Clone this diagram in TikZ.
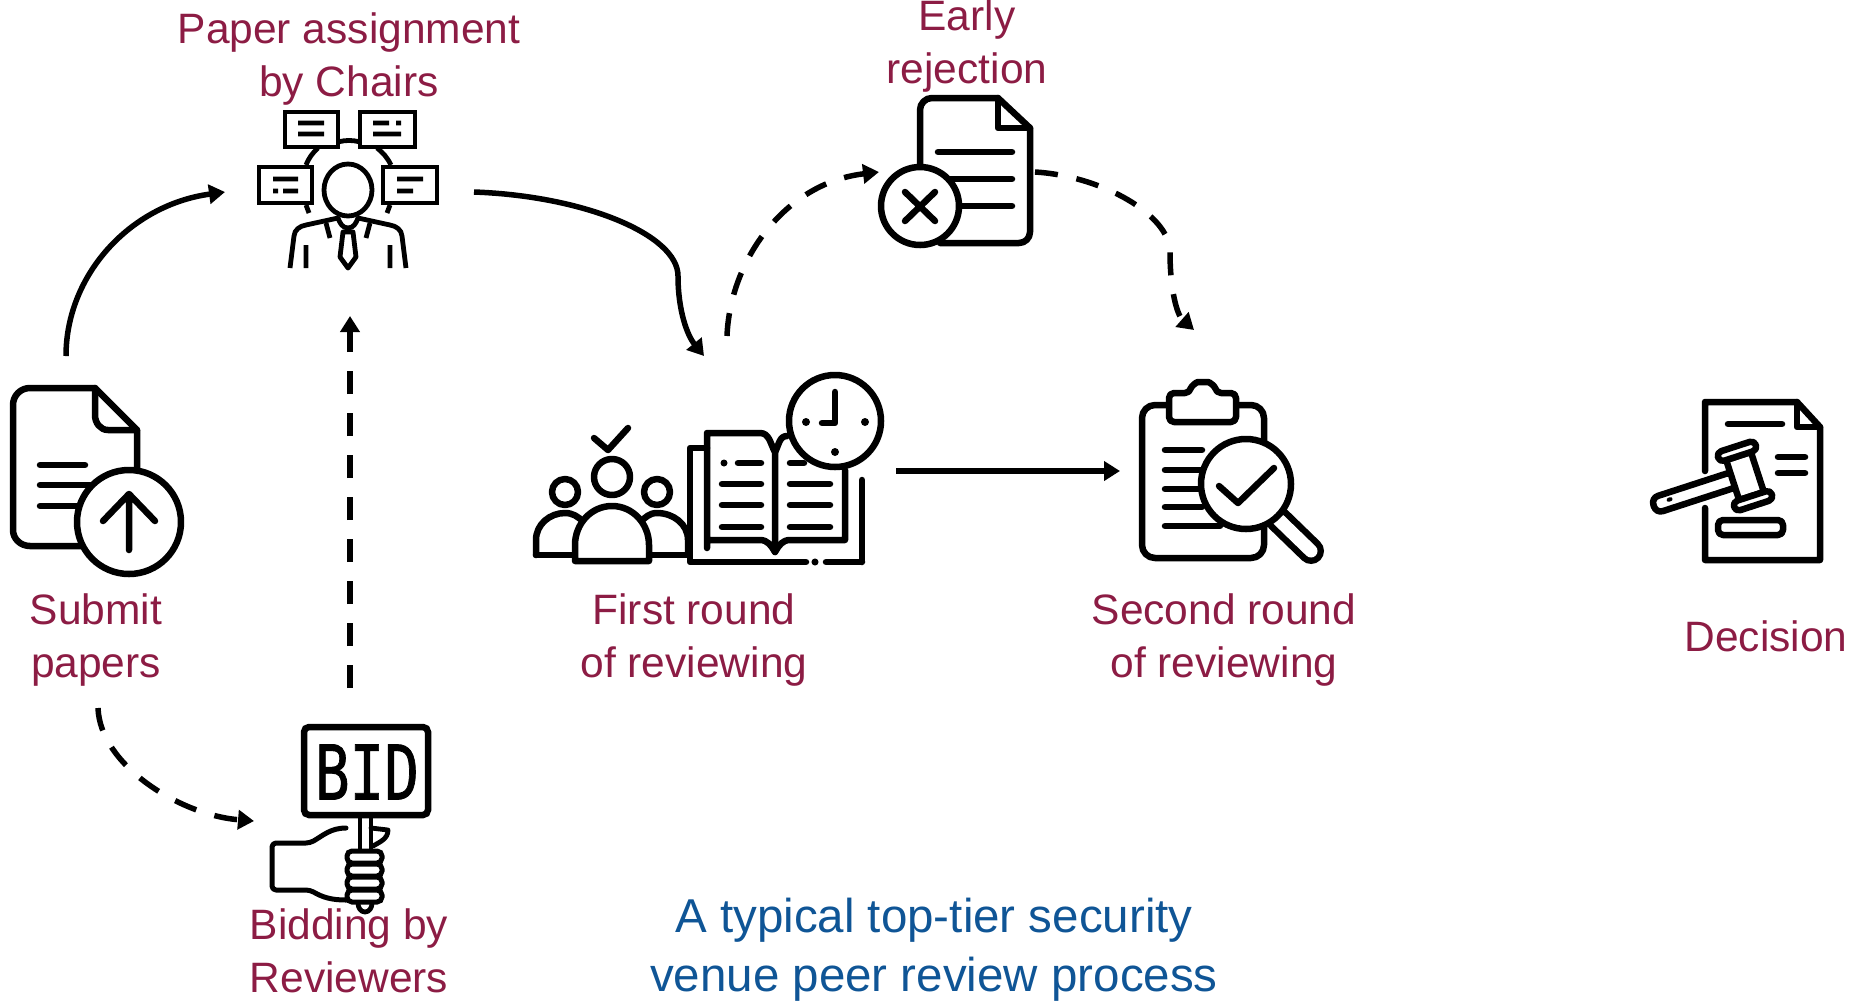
\documentclass[tikz,border=0pt]{standalone}
\usepackage{fontspec}
\usepackage{graphicx}
\setmainfont{Liberation Sans}
\newfontfamily\bidfont[FakeBold=1.2]{DejaVu Sans Mono}
\usetikzlibrary{arrows.meta}
\definecolor{wine}{HTML}{8C1C44}
\definecolor{navy}{HTML}{0F5596}
\tikzset{
  lab/.style={text=wine,inner sep=0pt,align=center,font=\fontsize{42.5}{52.5}\selectfont},
  ttl/.style={text=navy,inner sep=0pt,align=center,font=\fontsize{47.5}{59}\selectfont},
  flow/.style={line width=5.5pt,draw=black,-{Triangle[length=16pt,width=19pt]}},
  dflow/.style={flow,dash pattern=on 23pt off 19pt},
  ico/.style={line width=6.5pt,draw=black,line cap=round,line join=round},
  icothin/.style={line width=4.8pt,draw=black,line cap=round,line join=round},
  wfill/.style={fill=white}
}
\begin{document}
\begin{tikzpicture}[x=1pt,y=-1pt]
\useasboundingbox (0,0) rectangle (1865,1005);
% ---- labels
\node[lab,anchor=center] (lsubmit) at (96,640) {Submit\\papers};
\node[lab,anchor=center] (lpaper) at (349,59) {Paper assignment\\by Chairs};
\node[lab,anchor=center] (learly) at (967,46) {Early\\rejection};
\node[lab,anchor=center] (lfirst) at (694,640) {First round\\of reviewing};
\node[lab,anchor=center] (lsecond) at (1224,640) {Second round\\of reviewing};
\node[lab,anchor=center] (ldec) at (1766,636) {Decision};
\node[lab,anchor=center] (lbid) at (349,951) {Bidding by\\Reviewers};
\node[ttl,anchor=center] (ltitle) at (934,950) {A typical top-tier security\\venue peer review process};
% ---- submit icon
\draw[ico] (137,468) -- (137,430) -- (95,388) -- (30,388) to[out=180,in=90] (13,405) -- (13,530) to[out=270,in=180] (30,546) -- (82,546);
\draw[ico] (95,388) -- (95,415) to[out=270,in=180] (108,430) -- (137,430);
\draw[ico] (40,465) -- (85,465) (40,485) -- (90,485) (40,506) -- (80,506);
\draw[ico,wfill] (129,522) circle (52pt);
\draw[ico] (129,494) -- (129,550) (103,521) -- (129,494) -- (155,521);
% ---- chairs icon
\draw[icothin,line cap=butt] (306,165) to[bend left=12] (318,148) (338,142) to[bend left=14] (360,142) (377,148) to[bend left=12] (391,165);
\draw[icothin,line cap=butt,line join=miter] (285,112) rectangle (338,147) (360,112) rectangle (415,147) (259,167) rectangle (312,203) (383,167) rectangle (437,203);
\draw[icothin,line cap=butt] (298,123) -- (324,123) (298,134) -- (324,134) (373,123) -- (389,123) (396,123) -- (401,123) (373,134) -- (401,134)
  (273,179) -- (298,179) (273,191) -- (278,191) (283,191) -- (298,191) (397,179) -- (423,179) (397,191) -- (413,191)
  (306,205) -- (309,213) (390,205) -- (387,213);
\draw[icothin] (348,190) ellipse (24pt and 26pt);
\draw[icothin,line cap=butt] (290,268) -- (294,236) to[out=85,in=190] (306,225) -- (338,218) to[out=-70,in=180] (348,228) to[out=0,in=-110] (358,218) -- (390,225) to[out=-10,in=95] (402,236) -- (406,268);
\draw[icothin,line cap=butt] (306,245) -- (306,268) (390,245) -- (390,268) (326,223) -- (330,238) (370,223) -- (366,238);
\draw[icothin] (343,232) -- (340,257) -- (348,268) -- (356,257) -- (353,232) -- cycle;
% ---- bid icon
\draw[ico,rounded corners=5pt,line join=miter] (304,727) rectangle (428,815);
\node[inner sep=0pt] (bidtext) at (367,772) {\resizebox{104pt}{55pt}{\bidfont BID}};
\draw[icothin] (360,818) -- (360,848) (371,818) -- (371,848);
\draw[ico,line width=5pt,rounded corners=4pt] (346,828) to[out=180,in=30] (310,843) -- (272,843) -- (272,890) -- (310,890) to[out=-30,in=180] (346,900);
\draw[icothin] (371,828) -- (388,830) to[out=270,in=30] (373,846);
\foreach \yy in {851,864,877,890} \draw[line width=5pt,rounded corners=5pt] (347,\yy) rectangle (382,\yy+12);
\draw[icothin] (358,903) to[out=270,in=180] (365,912) to[out=0,in=270] (372,903);
% ---- first round icon
\draw[ico] (594,438) -- (608,450) -- (628,428);
\draw[ico] (612,477) circle (18pt) (565,492) circle (13pt) (657,492) circle (13pt);
\draw[ico] (536,555) -- (536,540) to[out=90,in=180] (565,513) to[out=0,in=140] (584,522);
\draw[ico] (688,555) -- (688,540) to[out=90,in=0] (657,513) to[out=180,in=40] (640,522);
\draw[ico] (536,555) -- (575,555) (649,555) -- (688,555);
\draw[ico,wfill] (575,561) -- (575,545) to[out=90,in=180] (612,506) to[out=0,in=90] (649,545) -- (649,561) -- cycle;
\draw[ico] (707,448) -- (690,448) -- (690,562) -- (806,562) (826,562) -- (862,562) (862,562) -- (862,480);
\node[circle,fill=black,inner sep=2.5pt] (bookdot) at (815,562) {};
\draw[ico] (707,548) -- (707,433) -- (760,433) to[out=0,in=120] (775,452) -- (775,552) to[out=120,in=0] (760,540) -- (707,540);
\draw[ico] (775,452) to[out=60,in=180] (787,436);
\draw[ico] (775,552) to[out=60,in=180] (790,540) -- (845,540) -- (845,470);
\draw[ico] (738,463) -- (761,463) (722,484) -- (761,484) (722,505) -- (761,505) (722,527) -- (761,527)
  (790,463) -- (804,463) (790,484) -- (830,484) (790,505) -- (830,505) (790,527) -- (830,527);
\fill (724,463) circle (3.5pt);
\draw[ico,wfill] (835,421) circle (46pt);
\draw[ico] (835,392) -- (835,423) -- (822,423);
\fill (806,422) circle (4pt) (865,422) circle (4pt) (835,452) circle (4pt);
% ---- second round icon
\begin{scope}[xshift=-10pt,yshift=1pt]
\draw[ico,rounded corners=13pt] (1274,500) -- (1274,406) -- (1152,406) -- (1152,559) -- (1274,559) -- (1274,520);
\draw[ico,wfill,rounded corners=5pt] (1179,423) -- (1179,394) -- (1200,394) to[out=80,in=180] (1213,383) to[out=0,in=100] (1226,394) -- (1246,394) -- (1246,423) -- cycle;
\draw[ico] (1175,451) -- (1212,451) (1175,471) -- (1212,471) (1175,490) -- (1212,490) (1175,508) -- (1212,508) (1175,527) -- (1230,527);
\draw[line width=26pt,line cap=round,black] (1288,520) -- (1321,552);
\draw[line width=13pt,line cap=round,white] (1288,520) -- (1321,552);
\draw[ico,wfill] (1256,485) circle (45pt);
\draw[ico] (1229,487) -- (1248,504) -- (1284,469);
\end{scope}
% ---- early rejection icon
\begin{scope}[xshift=-5pt]
\draw[ico] (925,167) -- (925,110) to[out=90,in=180] (937,98) -- (1003,98) -- (1035,128) -- (1035,232) to[out=270,in=0] (1024,243) -- (945,243);
\draw[ico] (1003,98) -- (1003,128) -- (1035,128);
\draw[ico] (943,152) -- (1017,152) (950,179) -- (1017,179) (960,206) -- (1017,206);
\draw[ico,wfill] (925,206) circle (39pt);
\draw[ico] (910,192) -- (940,221) (940,192) -- (910,221);
\end{scope}
% ---- decision icon
\draw[ico] (1705,471) -- (1705,402) -- (1797,402) -- (1820,427) -- (1820,560) -- (1705,560) -- (1705,508);
\draw[ico] (1797,402) -- (1797,427) -- (1820,427);
\draw[ico] (1728,424) -- (1782,424) (1778,457) -- (1805,457) (1778,473) -- (1805,473);
\draw[ico,rounded corners=5pt] (1718,520) rectangle (1783,535);
\begin{scope}[shift={(1745,476)},rotate=18]
  \draw[ico,wfill,rounded corners=7pt] (-96,-8) rectangle (-10,8);
  \draw[line width=4pt,line cap=round] (-78,-1) -- (-80,-1);
  \draw[ico,wfill] (-13,-21) rectangle (13,21);
  \draw[ico,wfill,rounded corners=5pt] (-20,-31) rectangle (20,-21);
  \draw[ico,wfill,rounded corners=5pt] (-20,21) rectangle (20,31);
\end{scope}
% ---- connector ends
\coordinate (a1s) at (66,356);
\coordinate (a1e) at (225,192);
\coordinate (a2s) at (474,192);
\coordinate (a2m) at (678,276);
\coordinate (a2e) at (704,356);
\coordinate (a3s) at (350,688);
\coordinate (a3e) at (350,316);
\coordinate (a4s) at (98,708);
\coordinate (a4e) at (254,821);
\coordinate (a5s) at (727,336);
\coordinate (a5e) at (879,172);
\coordinate (a6s) at (1035,172);
\coordinate (a6m) at (1170,252);
\coordinate (a6e) at (1194,330);
\coordinate (a7s) at (896,471);
\coordinate (a7e) at (1120,471);
% ---- connectors
\draw[flow] (a1s) .. controls (66,275) and (130,205) .. (a1e);
\draw[flow] (a2s) .. controls (585,196) and (678,235) .. (a2m) .. controls (678,310) and (687,335) .. (a2e);
\draw[dflow] (a3s) -- (a3e);
\draw[dflow] (a4s) .. controls (100,765) and (180,815) .. (a4e);
\draw[dflow] (a5s) .. controls (730,260) and (785,183) .. (a5e);
\draw[dflow] (a6s) .. controls (1102,176) and (1170,215) .. (a6m) .. controls (1170,290) and (1177,315) .. (a6e);
\draw[flow] (a7s) -- (a7e);
\end{tikzpicture}
\end{document}
